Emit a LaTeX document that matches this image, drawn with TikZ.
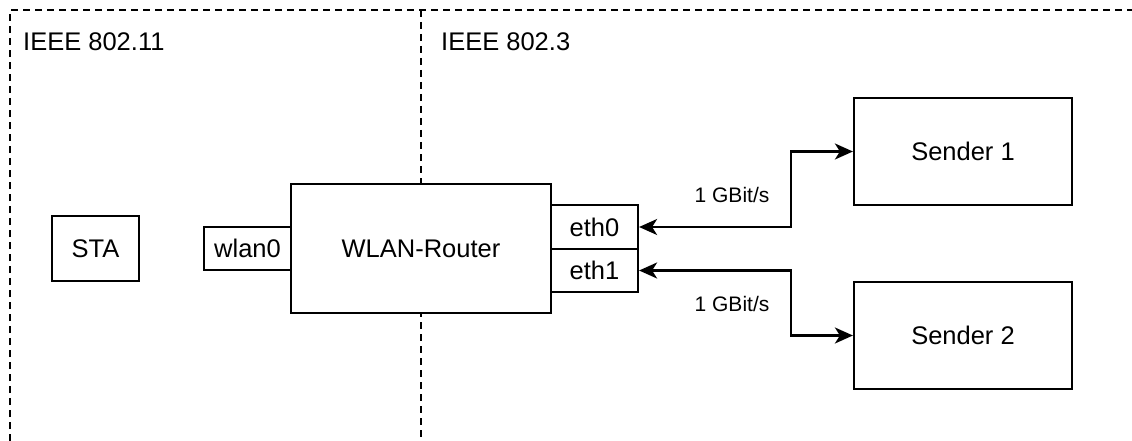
\documentclass[tikz,border=0pt]{standalone}
\usepackage{fontspec}
\setmainfont{Liberation Sans}
\usetikzlibrary{arrows.meta}

\tikzset{
  box/.style={draw, line width=2.2pt, fill=white, inner sep=0pt, align=center,
    font=\fontsize{25.5}{30}\selectfont},
  zone/.style={line width=2pt, dash pattern=on 7pt off 5pt},
  conn/.style={line width=2.2pt, {Stealth[length=18pt,width=16pt,inset=5pt]}-{Stealth[length=18pt,width=16pt,inset=5pt]}},
  rate/.style={font=\fontsize{21}{25}\selectfont, inner sep=0pt},
  zonelabel/.style={font=\fontsize{25.5}{30}\selectfont, anchor=west, inner sep=0pt},
}

\begin{document}
\begin{tikzpicture}[x=1pt, y=-1pt]
  \useasboundingbox (0,0) rectangle (1132,441);

  % standard domains, separated by dashed lines
  \draw[zone] (10,441) -- (10,10) -- (1132,10);
  \draw[zone] (421,10) -- (421,441);
  \node[zonelabel] (l11) at (23,42) {IEEE 802.11};
  \node[zonelabel] (l3) at (441,42) {IEEE 802.3};

  % devices
  \node[box, minimum width=87pt, minimum height=65pt] (sta) at (95.5,248.5) {STA};
  \node[box, minimum width=260pt, minimum height=129pt] (router) at (421,248.5) {WLAN-Router};
  \node[box, minimum width=87pt, minimum height=43pt] (wlan) at (247.5,248.5) {wlan0};
  \node[box, minimum width=87pt, minimum height=43.5pt] (eth0) at (594.5,227) {eth0};
  \node[box, minimum width=87pt, minimum height=43.5pt] (eth1) at (594.5,270.5) {eth1};
  \node[box, minimum width=218pt, minimum height=107pt] (s1) at (963,151.5) {Sender 1};
  \node[box, minimum width=218pt, minimum height=107pt] (s2) at (963,335.5) {Sender 2};

  % Ethernet links
  \draw[conn] (eth0.east) -- ++(152,0) |- (s1.west);
  \draw[conn] (eth1.east) -- ++(152,0) |- (s2.west);
  \node[rate] (r1) at (732,195) {1 GBit/s};
  \node[rate] (r2) at (732,304) {1 GBit/s};
\end{tikzpicture}
\end{document}
